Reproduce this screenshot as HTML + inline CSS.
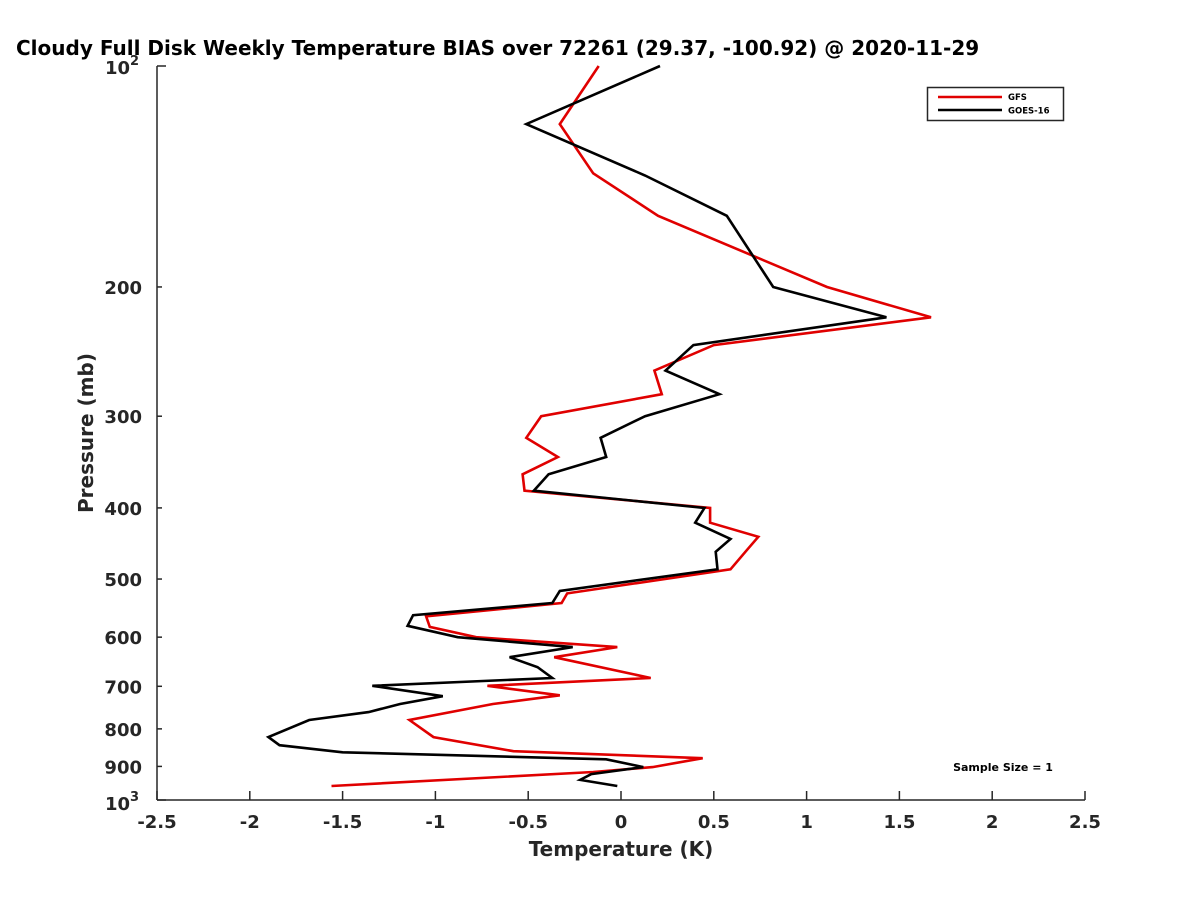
<!DOCTYPE html>
<html><head><meta charset="utf-8"><style>
body{margin:0;background:#fff;}
svg{display:block;font-family:"DejaVu Sans","Liberation Sans",sans-serif;font-weight:bold;}
</style></head><body>
<svg id="chart" width="1200" height="900" viewBox="0 0 1200 900">
<rect width="1200" height="900" fill="#fff"/>
<text x="16" y="55" font-size="20" fill="#000">Cloudy Full Disk Weekly Temperature BIAS over 72261 (29.37, -100.92) @ 2020-11-29</text>
<g id="axes"></g>
<g id="series"></g>
<g>
<rect x="927.5" y="87.5" width="136" height="33" fill="#fff" stroke="#262626" stroke-width="1.5"/>
<line x1="938" y1="97" x2="1002" y2="97" stroke="#e00000" stroke-width="2.5"/>
<text x="1008" y="100" font-size="8.5">GFS</text>
<line x1="938" y1="110" x2="1002" y2="110" stroke="#000" stroke-width="2.5"/>
<text x="1008" y="113.5" font-size="8.5">GOES-16</text>
</g>
<text x="1003" y="771" font-size="11" text-anchor="middle">Sample Size = 1</text>
<text x="621" y="856" font-size="20" text-anchor="middle" fill="#262626">Temperature (K)</text>
<text transform="translate(93,433) rotate(-90)" font-size="20" text-anchor="middle" fill="#262626">Pressure (mb)</text>
</svg>
<script>
const xTicks = [-2.5,-2,-1.5,-1,-0.5,0,0.5,1,1.5,2,2.5];
const xTickLabels = ["-2.5","-2","-1.5","-1","-0.5","0","0.5","1","1.5","2","2.5"];
const yMinorTicks = [200,300,400,500,600,700,800,900];
const gfsTemp = [-0.12,-0.33,-0.15,0.20,1.11,1.67,0.50,0.18,0.22,-0.43,-0.51,-0.34,-0.53,-0.52,0.48,0.48,0.74,0.68,0.59,-0.29,-0.32,-1.05,-1.03,-0.78,-0.02,-0.36,0.16,-0.72,-0.33,-0.69,-1.14,-1.01,-0.58,0.44,0.17,-0.15,-1.56];
const gfsPres = [100,120,140,160,200,220,240,260,280,300,321,341,360,379,400,419,438,456,485,523,539,562,581,600,619,639,682,699,720,740,778,821,858,877,902,916,957];
const goesTemp = [0.21,-0.51,0.13,0.57,0.82,1.43,0.39,0.24,0.53,0.13,-0.11,-0.08,-0.39,-0.47,0.45,0.40,0.59,0.51,0.52,-0.33,-0.37,-1.12,-1.15,-0.88,-0.26,-0.60,-0.45,-0.37,-1.34,-0.96,-1.19,-1.36,-1.68,-1.90,-1.84,-1.50,-0.08,0.12,-0.16,-0.22,-0.02];
const goesPres = [100,120,141,160,200,220,240,260,280,300,321,341,360,379,400,419,441,459,485,519,539,560,579,600,619,639,659,682,699,722,740,759,778,821,842,861,880,902,922,939,957];

const NS='http://www.w3.org/2000/svg';
const X0=157,X1=1085,YT=66,YB=800;
function xs(v){return X0+(v+2.5)/5*(X1-X0);}
function ys(p){return YT+(Math.log10(p)-2)*(YB-YT);}
function mk(tag,attrs,parent){const e=document.createElementNS(NS,tag);for(const k in attrs)e.setAttribute(k,attrs[k]);parent.appendChild(e);return e;}
const axes=document.getElementById('axes');
const ax=mk('line',{x1:X0,y1:YT,x2:X0,y2:YB,stroke:'#262626','stroke-width':1.5},axes);


const bx=mk('line',{x1:X0,y1:YB,x2:X1,y2:YB,stroke:'#262626','stroke-width':1.5},axes);


xTicks.forEach((v,i)=>{
  const t=mk('line',{x1:xs(v),y1:YB,x2:xs(v),y2:YB-9,stroke:'#262626','stroke-width':1.5},axes);
  
  
  const l=mk('text',{x:xs(v),y:YB+28,'font-size':18,'text-anchor':'middle',fill:'#262626'},axes);
  l.textContent=xTickLabels[i];
  
  
});
[100,1000].forEach(p=>{
  const t=mk('line',{x1:X0,y1:ys(p),x2:X0+9,y2:ys(p),stroke:'#262626','stroke-width':1.5},axes);
  
  
  const l=mk('text',{x:X0-35,y:ys(p)+(p===100?8:10),'font-size':18,'text-anchor':'middle',fill:'#262626'},axes);
  l.textContent='10';
  const s=mk('tspan',{dy:-9,'font-size':13},l);
  s.textContent=p===100?'2':'3';
  
  
});
yMinorTicks.forEach(p=>{
  const t=mk('line',{x1:X0,y1:ys(p),x2:X0+5,y2:ys(p),stroke:'#262626','stroke-width':1.5},axes);
  
  
  const l=mk('text',{x:X0-15,y:ys(p)+7,'font-size':18,'text-anchor':'end',fill:'#262626'},axes);
  l.textContent=String(p);
  
  
});
const ser=document.getElementById('series');
function line(T,P,color,name){
  const pts=T.map((t,i)=>xs(t).toFixed(1)+','+ys(P[i]).toFixed(1)).join(' ');
  const pl=mk('polyline',{points:pts,fill:'none',stroke:color,'stroke-width':2.6,'stroke-linejoin':'miter'},ser);
  
  
}
line(gfsTemp,gfsPres,'#e00000','gfs-line');
line(goesTemp,goesPres,'#000000','goes-16-line');
</script>
</body></html>
